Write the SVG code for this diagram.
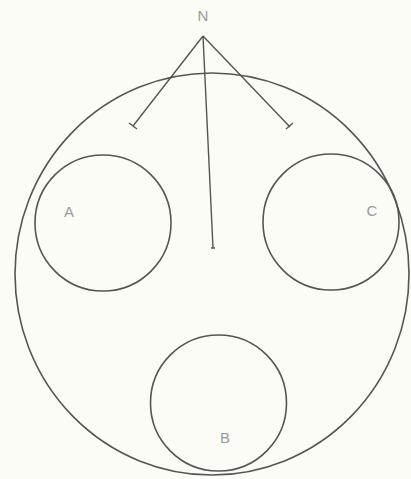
<svg xmlns="http://www.w3.org/2000/svg" width="411" height="479" viewBox="0 0 411 479">
<style>
.c{fill:none;stroke:#555;stroke-width:1.6}
.l{stroke:#555;stroke-width:1.4;fill:none}
.t{font-family:"Liberation Sans",Arial,sans-serif;font-size:15px;fill:#9a9a9a;text-anchor:middle}
</style>
<rect width="411" height="479" fill="#fbfcf5"/>
<g id="outer"><ellipse class="c" cx="212" cy="274" rx="197" ry="201"/></g>
<g id="A"><circle class="c" cx="103" cy="223" r="68"/><text class="t" x="69" y="217">A</text></g>
<g id="C"><circle class="c" cx="331" cy="222" r="68"/><text class="t" x="372" y="216">C</text></g>
<g id="B"><circle class="c" cx="218.5" cy="403" r="68"/><text class="t" x="225" y="443">B</text></g>
<g id="N"><text class="t" x="203" y="21">N</text></g>
<g id="connectors">
<path class="l" d="M203 36 L133 126 M203 36 L213 248 M203 36 L290 127"/>
<path class="l" stroke-width="2.2" d="M129 123 L137 129 M286 129 L293 123 M211 248 L215 248"/>
</g>
</svg>
